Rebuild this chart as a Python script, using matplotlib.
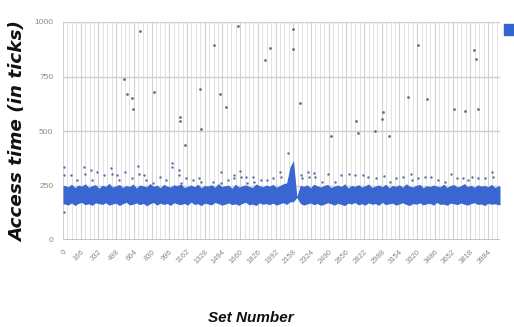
import numpy as np
import matplotlib
matplotlib.use("Agg")
import matplotlib.pyplot as plt
from matplotlib.patches import Rectangle
from matplotlib import font_manager

# ---- data ----
n_sets = 4096
bin_width = 32  # sets per band bin
band_lower = [165,160,170,158,168,172,162,166,159,170,167,163,171,160,165,169,158,166,173,161,
              164,170,162,168,157,166,172,160,169,163,167,159,171,165,162,168,160,174,163,166,
              158,169,165,161,172,167,160,164,170,162,166,159,168,173,161,165,158,170,164,167,
              162,169,160,166,171,163,175,176,195,168,160,165,170,162,167,159,164,171,166,160,
              168,163,158,169,165,172,161,166,160,170,164,167,159,173,162,166,169,160,165,171,
              163,158,167,164,170,161,166,168,160,172,163,165,159,169,166,162,170,164,160,167,
              171,163,165,158,168,164,166,162]
band_upper = [250,244,256,240,252,247,258,242,249,254,238,251,246,260,243,248,255,241,250,245,
              257,239,252,248,244,259,246,251,240,255,247,243,253,249,258,241,246,252,244,256,
              240,250,247,254,242,259,245,249,251,238,256,243,248,253,246,241,257,250,244,252,
              247,255,242,249,258,262,335,365,200,251,246,253,240,256,248,243,250,255,241,247,
              252,245,258,239,250,246,254,243,249,257,241,248,252,244,256,240,250,246,253,242,
              258,247,243,251,255,240,249,245,252,247,244,256,241,250,254,243,248,259,245,251,
              242,253,247,250,244,255,241,248]

# sparse points just above the band
near_sets = [9,9,72,134,197,204,260,275,322,385,448,457,510,526,579,651,704,714,761,777,839,911,964,
             1026,1026,1089,1089,1105,1152,1214,1277,1293,1402,1481,1481,1543,1599,1606,1659,1668,
             1715,1725,1777,1787,1856,1913,1966,2038,2044,2106,2232,2238,2294,2310,2357,2363,2426,
             2482,2545,2607,2685,2739,2811,2858,2936,3008,3061,3124,3186,3258,3271,3327,3390,3452,
             3515,3577,3634,3697,3749,3797,3834,3890,3953,4021,4031,9]
near_vals = [336,298,298,275,336,305,320,275,313,298,328,305,298,275,313,283,339,305,298,275,260,290,275,
             351,336,320,298,260,283,275,283,267,267,313,260,275,298,283,317,290,
             290,260,290,267,275,275,283,313,290,397,298,283,313,290,308,290,267,
             302,267,298,302,298,298,290,283,293,267,283,290,302,275,283,290,287,
             275,267,302,283,283,275,290,283,283,313,290,130]

# far outliers
out_sets = [573,604,645,657,723,854,1099,1099,1146,1283,1296,1415,1471,1530,1637,1893,1940,
            2160,2160,2222,2516,2748,2763,2923,2986,3002,3052,3233,3327,3408,3665,3768,3850,3869,3894]
out_vals = [737,672,652,603,957,679,565,546,435,691,510,896,672,610,980,824,882,
            969,878,629,478,548,493,501,554,589,476,656,896,646,601,592,873,830,601]

x_tick_labels = [str(v) for v in range(0, 3985, 166)]
y_ticks = [0, 250, 500, 750, 1000]


def has_font(name):
    try:
        font_manager.findfont(font_manager.FontProperties(family=name), fallback_to_default=False)
        return True
    except Exception:
        return False


narrow = has_font('Liberation Sans Narrow')

# ---- figure ----
fig = plt.figure(figsize=(5.14, 3.27), dpi=100)
ax = fig.add_axes([63/514, 1-240/327, 437/514, 218/327])

blue = '#3a66d2'
bin_x = np.arange(len(band_lower)) * bin_width + bin_width / 2
bx = np.concatenate([[0], bin_x, [n_sets]])
lo = np.concatenate([[band_lower[0]], band_lower, [band_lower[-1]]])
hi = np.concatenate([[band_upper[0]], band_upper, [band_upper[-1]]])
ax.fill_between(bx, lo, hi, color=blue, linewidth=0, zorder=3)

ax.scatter(near_sets, near_vals, s=3, color='#5a6fa8', linewidths=0, zorder=4)
ax.scatter(out_sets, out_vals, s=4, color='#6a6f80', linewidths=0, zorder=4)

ax.set_xlim(0, n_sets)
ax.set_ylim(0, 1000)

# grid
minor = np.arange(0, n_sets, 41.5)
for xv in minor:
    ax.axvline(xv, color='#e2e2e2', lw=0.7, zorder=1)
for xv in range(0, n_sets, 166):
    ax.axvline(xv, color='#d2d2d2', lw=0.8, zorder=1)
for yv in y_ticks[1:]:
    ax.axhline(yv, color='#cfcfcf', lw=1.0, zorder=2)
ax.axhline(0, color='#bbbbbb', lw=1.2, zorder=2)

for s in ax.spines.values():
    s.set_visible(False)

tick_font = ['Liberation Sans Narrow', 'DejaVu Sans'] if narrow else ['Liberation Sans', 'DejaVu Sans']
ax.set_yticks(y_ticks)
ax.set_yticklabels([str(v) for v in y_ticks], fontsize=6, color='#8a8a8a', family=tick_font)
ax.set_xticks(list(range(0, 3985, 166)))
ax.set_xticklabels(x_tick_labels, fontsize=5.5, color='#8a8a8a', family=tick_font,
                   rotation=45, ha='right', va='top', rotation_mode='anchor')
ax.tick_params(axis='both', length=0)
ax.tick_params(axis='y', pad=7)
ax.tick_params(axis='x', pad=6)

fig.text(18/514, 1-132/327, 'Access time (in ticks)', rotation=90, ha='center', va='center',
         fontsize=13.2, fontweight='bold', fontstyle='italic', color='#111111',
         family=['DejaVu Sans'])
if narrow:
    fig.text(251/514, 1-318/327, 'Set Number', ha='center', va='center',
             fontsize=13, fontweight='bold', fontstyle='italic', color='#111111',
             family=['Liberation Sans Narrow', 'DejaVu Sans'])
else:
    fig.text(251/514, 1-318/327, 'Set Number', ha='center', va='center',
             fontsize=11, fontweight='bold', fontstyle='italic', color='#111111',
             family=['Liberation Sans', 'DejaVu Sans'])

fig.patches.append(Rectangle((504/514, 1-35/327), 12/514, 11/327, transform=fig.transFigure,
                             color='#3366cc', figure=fig))

fig.savefig('out.png', dpi=100)
